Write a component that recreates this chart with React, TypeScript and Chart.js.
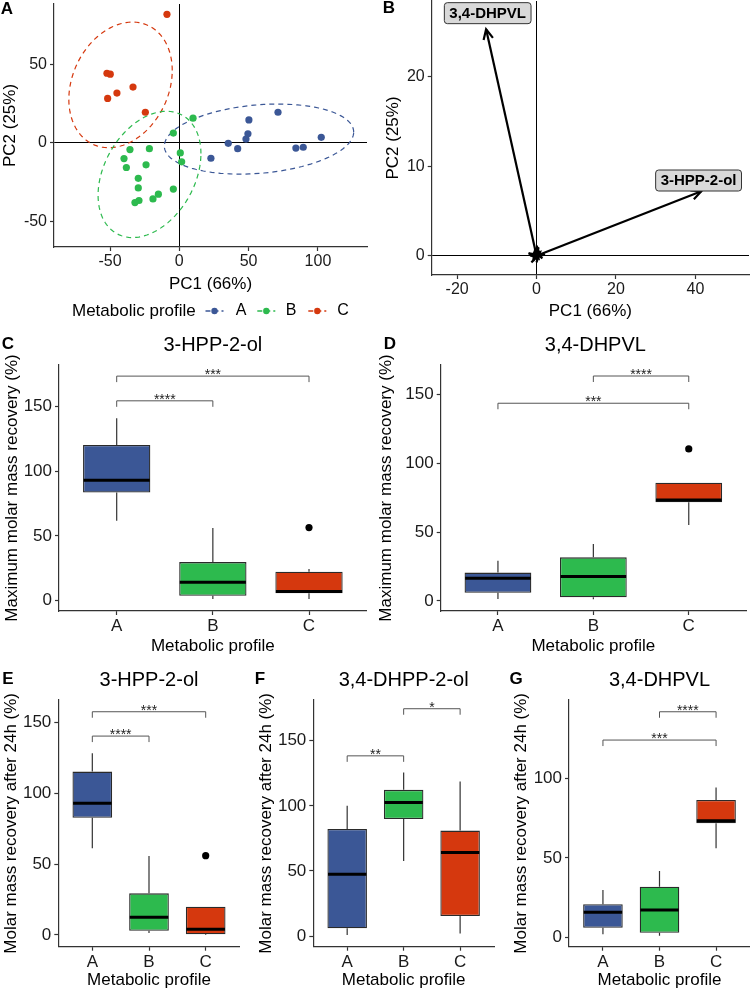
import React, { useEffect, useRef } from 'react';
import { Chart, registerables } from 'chart.js';
Chart.register(...registerables);

const FONT = '"Liberation Sans", Arial, Helvetica, sans-serif';
const AXIS_COLOR = '#333333';
const TICK_COLOR = '#1a1a1a';
const BOX_EDGE = '#2a2a2a';
const GROUP_COLORS = ['#3B5796', '#2DBA4E', '#D5380E'];

// ---------------- DATA ----------------
const groups = ['A', 'B', 'C'];

// Panel A – PCA scores
const scoresAX = [71.2, 50.2, 49.5, 48.1, 102.4, 35.3, 42.1, 22.8, 84.1, 89.4];
const scoresAY = [19.4, 14.5, 5.7, 2.3, 3.4, -0.4, -3.8, -9.9, -3.4, -2.9];
const scoresBX = [9.9, -4.3, -35.6, -21.6, 0.7, -39.9, 1.7, -38.2, -24, -29.6, -29.6, -4.3, -15.1, -19, -29.1, -32];
const scoresBY = [15.6, 6.1, -4.4, -3.8, -6.5, -10.1, -12.2, -15.8, -14.1, -22.7, -28.8, -29.5, -32.8, -35.8, -36.8, -38.1];
const scoresCX = [-8.9, -52.2, -49.8, -33.4, -45, -51.7, -24.5];
const scoresCY = [81.7, 44.2, 43.6, 35.4, 31.6, 28.2, 19.4];
// confidence ellipses (centre, half extents, correlation) per group A, B, C
const ellipseCx = [57.5, -21.5, -42.4];
const ellipseCy = [2.3, -20.2, 36.8];
const ellipseRx = [68.3, 37.1, 37.3];
const ellipseRy = [22.3, 40.2, 40.0];
const ellipseCorr = [0.2, 0.33, 0.23];
const pcaXTicks = [-50, 0, 50, 100];
const pcaYTicks = [-50, 0, 50];

// Panel B – loadings
const loadingNames = ['3,4-DHPVL', '3-HPP-2-ol'];
const loadingX = [-12.7, 41.5];
const loadingY = [25.3, 7.2];
const loadingLabelX = [-12.3, 40.8];
const loadingLabelY = [27.1, 8.4];
const minorLoadingX = [0.9, 0.5, -0.4, 0.2, -0.5, 0.7];
const minorLoadingY = [0.4, -0.3, 0.6, 0.9, -0.2, 0.1];
const biplotXTicks = [-20, 0, 20, 40];
const biplotYTicks = [0, 10, 20];

// Panel C – max recovery 3-HPP-2-ol
const maxHppMin = [61.6, 1.1, 1.1];
const maxHppQ1 = [83.5, 3.6, 5.7];
const maxHppMed = [93, 14.2, 7];
const maxHppQ3 = [120.3, 29.7, 22.2];
const maxHppMax = [141, 56, 24.3];
const maxHppOutGroup = [3];
const maxHppOutValue = [56.4];
const maxHppBrFrom = [1, 1];
const maxHppBrTo = [3, 2];
const maxHppBrY = [173.5, 154.4];
const maxHppBrLabel = ['***', '****'];

// Panel D – max recovery 3,4-DHPVL
const maxDhpvlMin = [1.5, 1.2, 55.2];
const maxDhpvlQ1 = [6.0, 2.7, 71.7];
const maxDhpvlMed = [16.5, 17.7, 73.4];
const maxDhpvlQ3 = [20.6, 31.7, 86];
const maxDhpvlMax = [29.3, 41.4, 86];
const maxDhpvlOutGroup = [3];
const maxDhpvlOutValue = [110.5];
const maxDhpvlBrFrom = [2, 1];
const maxDhpvlBrTo = [3, 3];
const maxDhpvlBrY = [163.5, 143.7];
const maxDhpvlBrLabel = ['****', '***'];

// Panel E – 24h recovery 3-HPP-2-ol
const d24HppMin = [61.2, 1.4, 0];
const d24HppQ1 = [82.8, 3, 0.5];
const d24HppMed = [93, 12.5, 4];
const d24HppQ3 = [115.4, 29.4, 20];
const d24HppMax = [128.4, 55.8, 20];
const d24HppOutGroup = [3];
const d24HppOutValue = [56];
const d24HppBrFrom = [1, 1];
const d24HppBrTo = [3, 2];
const d24HppBrY = [157.7, 140.5];
const d24HppBrLabel = ['***', '****'];

// Panel F – 24h recovery 3,4-DHPP-2-ol
const d24DhppMin = [0.8, 57.7, 2];
const d24DhppQ1 = [5.9, 89.8, 15.4];
const d24DhppMed = [47.4, 102.6, 64.1];
const d24DhppQ3 = [82.3, 112.3, 81];
const d24DhppMax = [100, 125.6, 118.7];
const d24DhppOutGroup: number[] = [];
const d24DhppOutValue: number[] = [];
const d24DhppBrFrom = [2, 1];
const d24DhppBrTo = [3, 2];
const d24DhppBrY = [174.6, 138.4];
const d24DhppBrLabel = ['*', '**'];

// Panel G – 24h recovery 3,4-DHPVL
const d24DhpvlMin = [1.9, 1, 56];
const d24DhpvlQ1 = [6, 2.9, 71.7];
const d24DhpvlMed = [15.7, 17.2, 73.4];
const d24DhpvlQ3 = [20.8, 31.8, 86.4];
const d24DhpvlMax = [29.8, 41.7, 94.3];
const d24DhpvlOutGroup: number[] = [];
const d24DhpvlOutValue: number[] = [];
const d24DhpvlBrFrom = [2, 1];
const d24DhpvlBrTo = [3, 3];
const d24DhpvlBrY = [141.9, 124.1];
const d24DhpvlBrLabel = ['****', '***'];

const boxTicks150 = [0, 50, 100, 150];
const boxTicks100 = [0, 50, 100];

// ---------------- LAYOUT / HELPERS ----------------
type Rect = { l: number; t: number; w: number; h: number };
type Frame = {
  canvas: Rect;
  plot: { l: number; t: number; r: number; b: number };
  xTitleY: number;
  yTitleX: number;
  xr: [number, number];
  yr: [number, number];
  tickSize: number;
};

const AXIS_TITLE_SIZE = 17;

function mkScale(axis: 'x' | 'y', f: Frame, ticks: number[], title: string, labels?: string[], zero?: boolean) {
  const half = (AXIS_TITLE_SIZE * 1.2) / 2;
  const size = axis === 'x' ? f.canvas.t + f.canvas.h - f.plot.b : f.plot.l - f.canvas.l;
  const titlePad = axis === 'x' ? f.canvas.t + f.canvas.h - f.xTitleY - half : f.yTitleX - f.canvas.l - half;
  const range = axis === 'x' ? f.xr : f.yr;
  return {
    type: 'linear',
    position: axis === 'x' ? 'bottom' : 'left',
    min: range[0],
    max: range[1],
    bounds: 'data',
    offset: false,
    afterBuildTicks: (s: any) => {
      s.ticks = ticks.map((v) => ({ value: v }));
    },
    afterFit: (s: any) => {
      if (axis === 'x') s.height = size;
      else s.width = size;
      s.paddingTop = 0;
      s.paddingBottom = 0;
      s.paddingLeft = 0;
      s.paddingRight = 0;
    },
    ticks: {
      autoSkip: false,
      maxRotation: 0,
      minRotation: 0,
      padding: axis === 'x' ? 1 : 3,
      color: TICK_COLOR,
      font: { family: FONT, size: f.tickSize },
      callback: (v: any) => (labels ? labels[Math.round(Number(v)) - 1] : String(v)),
    },
    grid: {
      display: true,
      offset: false,
      drawOnChartArea: !!zero,
      color: (c: any) => (zero && c.tick && c.tick.value === 0 ? '#000000' : 'rgba(0,0,0,0)'),
      lineWidth: 1,
      drawTicks: true,
      tickLength: 4,
      tickColor: AXIS_COLOR,
      tickWidth: 1.2,
    },
    border: { display: true, color: AXIS_COLOR, width: 1.2 },
    title: {
      display: true,
      text: title,
      color: '#000',
      font: { family: FONT, size: AXIS_TITLE_SIZE },
      padding: axis === 'x' ? { top: 0, bottom: titlePad } : { top: titlePad, bottom: 0 },
    },
  };
}

function baseOptions(f: Frame) {
  return {
    responsive: false,
    maintainAspectRatio: false,
    animation: false,
    devicePixelRatio: 1,
    events: [],
    layout: {
      padding: {
        top: f.plot.t - f.canvas.t,
        right: f.canvas.l + f.canvas.w - f.plot.r,
        left: 0,
        bottom: 0,
      },
    },
    plugins: { legend: { display: false }, tooltip: { enabled: false }, title: { display: false } },
  };
}

type TextItem = { text: string; x: number; y: number; size: number; bold?: boolean; align?: CanvasTextAlign };
function decorPlugin(f: Frame, items: TextItem[]) {
  return {
    id: 'decor',
    afterDraw(chart: any) {
      const ctx = chart.ctx as CanvasRenderingContext2D;
      ctx.save();
      ctx.fillStyle = '#000';
      ctx.textBaseline = 'middle';
      items.forEach((it) => {
        ctx.font = `${it.bold ? 'bold ' : ''}${it.size}px ${FONT}`;
        ctx.textAlign = it.align || 'center';
        ctx.fillText(it.text, it.x - f.canvas.l, it.y - f.canvas.t);
      });
      ctx.restore();
    },
  };
}

// ---------------- PANEL A ----------------
const frameA: Frame = {
  canvas: { l: 0, t: 0, w: 375, h: 325 },
  plot: { l: 54, t: 2, r: 367, b: 247 },
  xTitleY: 284,
  yTitleX: 10,
  xr: [-90.4, 135.4],
  yr: [-66.4, 88.3],
  tickSize: 16,
};

function ellipsePoints(g: number) {
  const pts: { x: number; y: number }[] = [];
  const r = ellipseCorr[g];
  const s = Math.sqrt(1 - r * r);
  for (let k = 0; k <= 120; k++) {
    const t = (k / 120) * Math.PI * 2;
    pts.push({
      x: ellipseCx[g] + ellipseRx[g] * Math.cos(t),
      y: ellipseCy[g] + ellipseRy[g] * (r * Math.cos(t) + s * Math.sin(t)),
    });
  }
  return pts;
}

function buildA() {
  const f = frameA;
  const sx = [scoresAX, scoresBX, scoresCX];
  const sy = [scoresAY, scoresBY, scoresCY];
  const pointSets = groups.map((g, i) => ({
    type: 'scatter',
    label: g,
    data: sx[i].map((v, k) => ({ x: v, y: sy[i][k] })),
    backgroundColor: GROUP_COLORS[i],
    borderWidth: 0,
    pointRadius: 3.6,
  }));
  const ellipseSets = groups.map((g, i) => ({
    type: 'scatter',
    label: g + ' ellipse',
    data: ellipsePoints(i),
    showLine: true,
    tension: 0,
    borderColor: GROUP_COLORS[i],
    borderWidth: 1.2,
    borderDash: [5, 4],
    pointRadius: 0,
    fill: false,
  }));
  const legend = {
    id: 'legendA',
    afterDraw(chart: any) {
      const ctx = chart.ctx as CanvasRenderingContext2D;
      const y = 311 - f.canvas.t;
      ctx.save();
      ctx.textBaseline = 'middle';
      ctx.fillStyle = '#000';
      ctx.font = `17px ${FONT}`;
      ctx.textAlign = 'left';
      ctx.fillText('Metabolic profile', 72, y);
      const keyX = [214.5, 266.3, 317.3];
      const labX = [241, 291, 343];
      groups.forEach((g, i) => {
        ctx.strokeStyle = GROUP_COLORS[i];
        ctx.lineWidth = 1.3;
        ctx.setLineDash([5, 3]);
        ctx.beginPath();
        ctx.moveTo(keyX[i] - 9, y);
        ctx.lineTo(keyX[i] + 9, y);
        ctx.stroke();
        ctx.setLineDash([]);
        ctx.fillStyle = GROUP_COLORS[i];
        ctx.beginPath();
        ctx.arc(keyX[i], y, 3.2, 0, Math.PI * 2);
        ctx.fill();
        ctx.fillStyle = '#000';
        ctx.font = `16px ${FONT}`;
        ctx.textAlign = 'center';
        ctx.fillText(g, labX[i], y);
      });
      ctx.restore();
    },
  };
  return {
    type: 'scatter',
    data: { datasets: [...pointSets, ...ellipseSets] },
    options: {
      ...baseOptions(f),
      scales: {
        x: mkScale('x', f, pcaXTicks, 'PC1 (66%)', undefined, true),
        y: mkScale('y', f, pcaYTicks, 'PC2 (25%)', undefined, true),
      },
    },
    plugins: [legend, decorPlugin(f, [{ text: 'A', x: 7, y: 9, size: 17, bold: true }])],
  };
}

// ---------------- PANEL B ----------------
const frameB: Frame = {
  canvas: { l: 375, t: 0, w: 375, h: 325 },
  plot: { l: 431.7, t: 1, r: 749, b: 275 },
  xTitleY: 311,
  yTitleX: 393,
  xr: [-26.4, 53.5],
  yr: [-2.16, 28.46],
  tickSize: 16,
};

function buildB() {
  const f = frameB;
  const allX = [...loadingX, ...minorLoadingX];
  const allY = [...loadingY, ...minorLoadingY];
  const shafts = allX.map((lx, i) => ({
    type: 'scatter',
    label: 'v' + i,
    data: [
      { x: 0, y: 0 },
      { x: lx, y: allY[i] },
    ],
    showLine: true,
    borderColor: '#000',
    borderWidth: 2.2,
    pointRadius: 0,
    tension: 0,
  }));
  const arrows = {
    id: 'arrows',
    afterDatasetsDraw(chart: any) {
      const ctx = chart.ctx as CanvasRenderingContext2D;
      const { x, y } = chart.scales;
      const ox = x.getPixelForValue(0);
      const oy = y.getPixelForValue(0);
      ctx.save();
      ctx.strokeStyle = '#000';
      ctx.lineWidth = 2.2;
      ctx.lineJoin = 'miter';
      allX.forEach((lx, i) => {
        const tx = x.getPixelForValue(lx);
        const ty = y.getPixelForValue(allY[i]);
        const a = Math.atan2(ty - oy, tx - ox);
        const L = 11;
        const sp = Math.PI / 7;
        ctx.beginPath();
        ctx.moveTo(tx - L * Math.cos(a - sp), ty - L * Math.sin(a - sp));
        ctx.lineTo(tx, ty);
        ctx.lineTo(tx - L * Math.cos(a + sp), ty - L * Math.sin(a + sp));
        ctx.stroke();
      });
      // label boxes on top of the arrows
      ctx.font = `bold 15px ${FONT}`;
      ctx.textAlign = 'center';
      ctx.textBaseline = 'middle';
      loadingNames.forEach((n, i) => {
        const cx = x.getPixelForValue(loadingLabelX[i]);
        const cy = y.getPixelForValue(loadingLabelY[i]);
        const w = ctx.measureText(n).width + 10;
        const h = 21;
        ctx.beginPath();
        (ctx as any).roundRect(cx - w / 2, cy - h / 2, w, h, 3);
        ctx.fillStyle = '#d9d9d9';
        ctx.fill();
        ctx.lineWidth = 1;
        ctx.strokeStyle = '#333';
        ctx.stroke();
        ctx.fillStyle = '#000';
        ctx.fillText(n, cx, cy + 0.5);
      });
      ctx.restore();
    },
  };
  return {
    type: 'scatter',
    data: { datasets: shafts },
    options: {
      ...baseOptions(f),
      scales: {
        x: mkScale('x', f, biplotXTicks, 'PC1 (66%)', undefined, true),
        y: mkScale('y', f, biplotYTicks, 'PC2 (25%)', undefined, true),
      },
    },
    plugins: [arrows, decorPlugin(f, [{ text: 'B', x: 389, y: 8, size: 17, bold: true }])],
  };
}

// ---------------- BOX PANELS ----------------
type BoxSpec = {
  min: number[];
  q1: number[];
  med: number[];
  q3: number[];
  max: number[];
  outG: number[];
  outV: number[];
  brFrom: number[];
  brTo: number[];
  brY: number[];
  brLabel: string[];
  ticks: number[];
};

const BOX_HALF = 0.35;

function boxPlugin(s: BoxSpec) {
  return {
    id: 'boxExtras',
    beforeDatasetsDraw(chart: any) {
      const ctx = chart.ctx as CanvasRenderingContext2D;
      const { x, y } = chart.scales;
      ctx.save();
      ctx.strokeStyle = AXIS_COLOR;
      ctx.lineWidth = 1.2;
      s.q1.forEach((_, i) => {
        const px = x.getPixelForValue(i + 1);
        ctx.beginPath();
        ctx.moveTo(px, y.getPixelForValue(s.q3[i]));
        ctx.lineTo(px, y.getPixelForValue(s.max[i]));
        ctx.moveTo(px, y.getPixelForValue(s.q1[i]));
        ctx.lineTo(px, y.getPixelForValue(s.min[i]));
        ctx.stroke();
      });
      ctx.restore();
    },
    afterDatasetsDraw(chart: any) {
      const ctx = chart.ctx as CanvasRenderingContext2D;
      const { x, y } = chart.scales;
      ctx.save();
      ctx.strokeStyle = '#000';
      ctx.lineWidth = 3;
      s.med.forEach((m, i) => {
        const py = y.getPixelForValue(m);
        ctx.beginPath();
        ctx.moveTo(x.getPixelForValue(i + 1 - BOX_HALF) + 0.6, py);
        ctx.lineTo(x.getPixelForValue(i + 1 + BOX_HALF) - 0.6, py);
        ctx.stroke();
      });
      // significance brackets
      ctx.strokeStyle = '#555';
      ctx.lineWidth = 1;
      ctx.fillStyle = '#222';
      ctx.font = `14px ${FONT}`;
      ctx.textAlign = 'center';
      ctx.textBaseline = 'alphabetic';
      s.brY.forEach((v, i) => {
        const x1 = x.getPixelForValue(s.brFrom[i]);
        const x2 = x.getPixelForValue(s.brTo[i]);
        const py = y.getPixelForValue(v);
        ctx.beginPath();
        ctx.moveTo(x1, py + 6);
        ctx.lineTo(x1, py);
        ctx.lineTo(x2, py);
        ctx.lineTo(x2, py + 6);
        ctx.stroke();
        ctx.fillText(s.brLabel[i], (x1 + x2) / 2, py + 3);
      });
      ctx.restore();
    },
  };
}

function buildBox(f: Frame, s: BoxSpec, title: string, letter: string, letterX: number, yTitle: string) {
  return () => ({
    type: 'bar',
    data: {
      datasets: [
        {
          type: 'bar',
          label: 'box',
          data: groups.map((g, i) => ({ x: i + 1, y: [s.q1[i], s.q3[i]] })),
          backgroundColor: GROUP_COLORS,
          borderColor: BOX_EDGE,
          borderWidth: 1.3,
          borderSkipped: false,
          barPercentage: BOX_HALF * 2,
          categoryPercentage: 1,
        },
        {
          type: 'scatter',
          label: 'outliers',
          data: s.outG.map((g, i) => ({ x: g, y: s.outV[i] })),
          backgroundColor: '#000',
          borderWidth: 0,
          pointRadius: 3.6,
        },
      ],
    },
    options: {
      ...baseOptions(f),
      scales: {
        x: mkScale('x', f, [1, 2, 3], 'Metabolic profile', groups),
        y: mkScale('y', f, s.ticks, yTitle),
      },
    },
    plugins: [
      boxPlugin(s),
      decorPlugin(f, [
        { text: title, x: (f.plot.l + f.plot.r) / 2, y: f.plot.t - 20, size: 20 },
        { text: letter, x: letterX, y: f.plot.t - 21, size: 17, bold: true },
      ]),
    ],
  });
}

const frameC: Frame = {
  canvas: { l: 0, t: 330, w: 375, h: 330 },
  plot: { l: 59, t: 365, r: 366.7, b: 611 },
  xTitleY: 646.5,
  yTitleX: 12,
  xr: [0.4, 3.6],
  yr: [-8.1, 182.1],
  tickSize: 17,
};
const frameD: Frame = {
  canvas: { l: 375, t: 330, w: 375, h: 330 },
  plot: { l: 440.7, t: 365, r: 750, b: 611 },
  xTitleY: 646.5,
  yTitleX: 386,
  xr: [0.4, 3.6],
  yr: [-7.3, 171.5],
  tickSize: 17,
};
const frameE: Frame = {
  canvas: { l: 0, t: 665, w: 250, h: 326 },
  plot: { l: 58.3, t: 700, r: 239.7, b: 946.7 },
  xTitleY: 980,
  yTitleX: 11,
  xr: [0.4, 3.6],
  yr: [-8.3, 166],
  tickSize: 17,
};
const frameF: Frame = {
  canvas: { l: 250, t: 665, w: 250, h: 326 },
  plot: { l: 313.3, t: 700, r: 494, b: 946.7 },
  xTitleY: 980,
  yTitleX: 266,
  xr: [0.4, 3.6],
  yr: [-8.2, 181.3],
  tickSize: 17,
};
const frameG: Frame = {
  canvas: { l: 500, t: 665, w: 250, h: 326 },
  plot: { l: 569, t: 700, r: 750, b: 946.7 },
  xTitleY: 980,
  yTitleX: 521,
  xr: [0.4, 3.6],
  yr: [-5.9, 149.3],
  tickSize: 17,
};

const specC: BoxSpec = {
  min: maxHppMin, q1: maxHppQ1, med: maxHppMed, q3: maxHppQ3, max: maxHppMax,
  outG: maxHppOutGroup, outV: maxHppOutValue,
  brFrom: maxHppBrFrom, brTo: maxHppBrTo, brY: maxHppBrY, brLabel: maxHppBrLabel, ticks: boxTicks150,
};
const specD: BoxSpec = {
  min: maxDhpvlMin, q1: maxDhpvlQ1, med: maxDhpvlMed, q3: maxDhpvlQ3, max: maxDhpvlMax,
  outG: maxDhpvlOutGroup, outV: maxDhpvlOutValue,
  brFrom: maxDhpvlBrFrom, brTo: maxDhpvlBrTo, brY: maxDhpvlBrY, brLabel: maxDhpvlBrLabel, ticks: boxTicks150,
};
const specE: BoxSpec = {
  min: d24HppMin, q1: d24HppQ1, med: d24HppMed, q3: d24HppQ3, max: d24HppMax,
  outG: d24HppOutGroup, outV: d24HppOutValue,
  brFrom: d24HppBrFrom, brTo: d24HppBrTo, brY: d24HppBrY, brLabel: d24HppBrLabel, ticks: boxTicks150,
};
const specF: BoxSpec = {
  min: d24DhppMin, q1: d24DhppQ1, med: d24DhppMed, q3: d24DhppQ3, max: d24DhppMax,
  outG: d24DhppOutGroup, outV: d24DhppOutValue,
  brFrom: d24DhppBrFrom, brTo: d24DhppBrTo, brY: d24DhppBrY, brLabel: d24DhppBrLabel, ticks: boxTicks150,
};
const specG: BoxSpec = {
  min: d24DhpvlMin, q1: d24DhpvlQ1, med: d24DhpvlMed, q3: d24DhpvlQ3, max: d24DhpvlMax,
  outG: d24DhpvlOutGroup, outV: d24DhpvlOutValue,
  brFrom: d24DhpvlBrFrom, brTo: d24DhpvlBrTo, brY: d24DhpvlBrY, brLabel: d24DhpvlBrLabel, ticks: boxTicks100,
};

const panels: { frame: Frame; build: () => any }[] = [
  { frame: frameA, build: buildA },
  { frame: frameB, build: buildB },
  { frame: frameC, build: buildBox(frameC, specC, '3-HPP-2-ol', 'C', 8, 'Maximum molar mass recovery (%)') },
  { frame: frameD, build: buildBox(frameD, specD, '3,4-DHPVL', 'D', 390, 'Maximum molar mass recovery (%)') },
  { frame: frameE, build: buildBox(frameE, specE, '3-HPP-2-ol', 'E', 8, 'Molar mass recovery after 24h (%)') },
  { frame: frameF, build: buildBox(frameF, specF, '3,4-DHPP-2-ol', 'F', 260, 'Molar mass recovery after 24h (%)') },
  { frame: frameG, build: buildBox(frameG, specG, '3,4-DHPVL', 'G', 516, 'Molar mass recovery after 24h (%)') },
];

function ChartCanvas({ rect, build }: { rect: Rect; build: () => any }) {
  const ref = useRef<HTMLCanvasElement>(null);
  useEffect(() => {
    const chart = new Chart(ref.current as HTMLCanvasElement, build());
    return () => chart.destroy();
  }, []);
  return (
    <canvas
      ref={ref}
      width={rect.w}
      height={rect.h}
      style={{ position: 'absolute', left: rect.l, top: rect.t, width: rect.w + 'px', height: rect.h + 'px' }}
    />
  );
}

export default function App() {
  return (
    <div style={{ position: 'absolute', left: 0, top: 0, width: 750, height: 991, background: '#fff', overflow: 'hidden', fontFamily: FONT }}>
      {panels.map((p, i) => (
        <ChartCanvas key={i} rect={p.frame.canvas} build={p.build} />
      ))}
    </div>
  );
}
